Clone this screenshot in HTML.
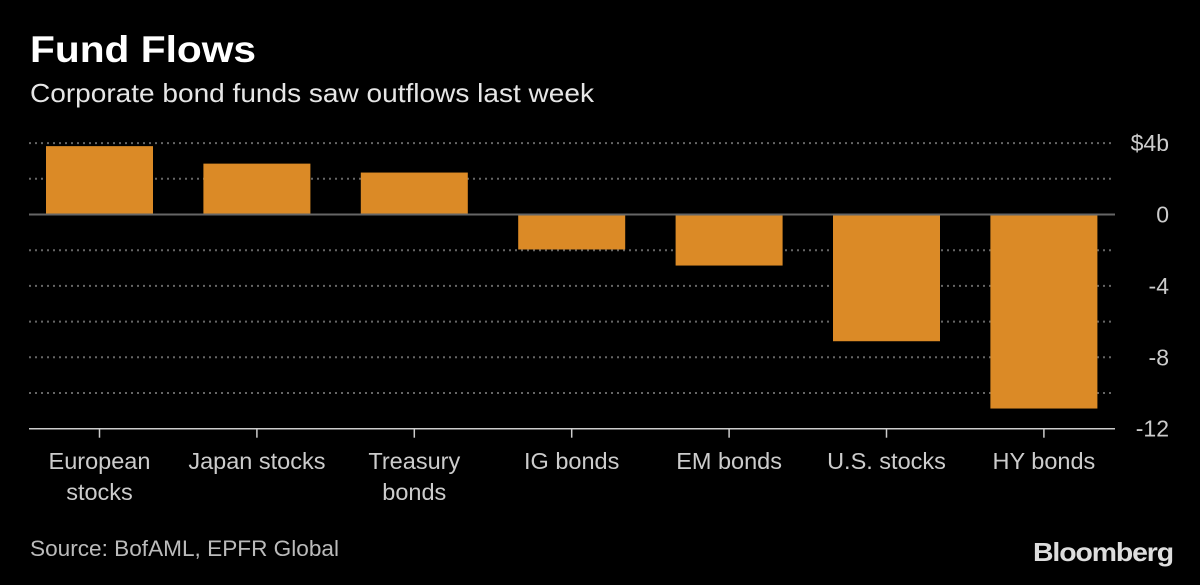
<!DOCTYPE html>
<html><head><meta charset="utf-8"><style>
body{margin:0;background:#000;width:1200px;height:580px;overflow:hidden;font-family:"Liberation Sans","DejaVu Sans",sans-serif}
</style></head><body>
<svg id="c" width="1200" height="580">
<text x="30" y="62" fill="#fff" font-size="37" font-weight="bold" textLength="226" lengthAdjust="spacingAndGlyphs">Fund Flows</text>
<text x="30" y="102" fill="#e6e6e6" font-size="26" textLength="564" lengthAdjust="spacingAndGlyphs">Corporate bond funds saw outflows last week</text>
<text x="30" y="556" fill="#bbb" font-size="22" textLength="309" lengthAdjust="spacingAndGlyphs">Source: BofAML, EPFR Global</text>
<text x="1033" y="561" fill="#ddd" font-size="26" font-weight="bold" textLength="140" lengthAdjust="spacingAndGlyphs" letter-spacing="-1">Bloomberg</text>
<g id="grid"></g><g id="bars"></g><g id="axes"></g>
</svg>
<script>
const categories=[["European","stocks"],["Japan stocks"],["Treasury","bonds"],["IG bonds"],["EM bonds"],["U.S. stocks"],["HY bonds"]];
const values=[3.83,2.85,2.35,-1.96,-2.86,-7.1,-10.87];
const tickValues=[4,0,-4,-8,-12];
const tickLabels=["$4b","0","-4","-8","-12"];
const gridValues=[4,2,-2,-4,-6,-8,-10];
const NS="http://www.w3.org/2000/svg";
const y=v=>214.5-(v)*17.85;
const x=i=>99.5+i*157.4;
const L=29,R=1115,BW=107;
function mk(t,a,p){const e=document.createElementNS(NS,t);for(const k in a)e.setAttribute(k,a[k]);p.appendChild(e);return e;}
const G=document.getElementById('grid'),B=document.getElementById('bars'),A=document.getElementById('axes');
gridValues.forEach(v=>{const l=mk('line',{x1:L,x2:R,y1:y(v),y2:y(v),stroke:'#666','stroke-width':2,'stroke-dasharray':'2 4'},G);

});
values.forEach((v,i)=>{const r=mk('rect',{x:x(i)-BW/2,y:Math.min(y(v),y(0)),width:BW,height:Math.abs(y(v)-y(0)),fill:'#db8a26'},B);

});
const z=mk('line',{x1:L,x2:R,y1:y(0),y2:y(0),stroke:'#666','stroke-width':2},A);


const b=mk('line',{x1:L,x2:R,y1:y(-12),y2:y(-12),stroke:'#ccc','stroke-width':1.5},A);


tickValues.forEach((v,i)=>{const t=mk('text',{x:1169,y:y(v)+8,fill:'#ccc','font-size':23,'text-anchor':'end'},A);t.textContent=tickLabels[i];

});
categories.forEach((c,i)=>{const tk=mk('line',{x1:x(i),x2:x(i),y1:y(-12),y2:y(-12)+9,stroke:'#ccc','stroke-width':1.5},A);


c.forEach((s,j)=>{const t=mk('text',{x:x(i),y:469+j*31,fill:'#ccc','font-size':23.5,'text-anchor':'middle'},A);t.textContent=s;

});});
</script>
</body></html>
